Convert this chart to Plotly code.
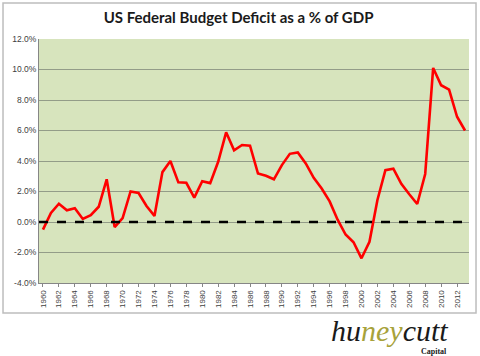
import plotly.graph_objects as go

years = [str(y) for y in range(1960, 2014)]
deficit = [-0.5, 0.6, 1.2, 0.77, 0.9, 0.2, 0.45, 1.0, 2.8, -0.33,
           0.25, 2.0, 1.9, 1.05, 0.4, 3.27, 4.0, 2.6, 2.57, 1.6,
           2.67, 2.55, 3.95, 5.88, 4.7, 5.05, 5.0, 3.18, 3.03, 2.8,
           3.73, 4.47, 4.56, 3.84, 2.9, 2.2, 1.35, 0.15, -0.82, -1.33,
           -2.38, -1.3, 1.44, 3.4, 3.5, 2.5, 1.82, 1.18, 3.15, 10.1,
           8.97, 8.68, 6.9, 6.0]
tick_years = [str(y) for y in range(1960, 2014, 2)]
y_ticks = [-4, -2, 0, 2, 4, 6, 8, 10, 12]
y_labels = ["-4.0%", "-2.0%", "0.0%", "2.0%", "4.0%", "6.0%", "8.0%", "10.0%", "12.0%"]

fig = go.Figure()
fig.add_trace(go.Scatter(x=years, y=deficit, mode="lines",
                         line=dict(color="#ff0000", width=2.6), hoverinfo="skip"))

fig.add_shape(type="line", xref="paper", yref="y", x0=0, x1=1, y0=0, y1=0,
              line=dict(color="black", width=2.6, dash="dash"), layer="above")

# chart border
fig.add_shape(type="rect", xref="paper", yref="paper",
              x0=-0.0837, x1=1.0163, y0=-0.123, y1=1.1475,
              line=dict(color="#bdbdbd", width=1.5), layer="below")

fig.update_layout(
    width=480, height=356,
    margin=dict(l=39, r=11, t=39, b=73, autoexpand=False),
    paper_bgcolor="white", plot_bgcolor="#d7e4bd",
    showlegend=False,
    title=dict(text="<b>US Federal Budget Deficit as a % of GDP</b>",
               x=0.497, xanchor="center", y=1 - 18 / 356, yanchor="middle",
               font=dict(family="Lato, Open Sans, sans-serif", size=15, color="#1a1a1a")),
    font=dict(family="Liberation Sans, Arial, sans-serif", size=9, color="#404040"),
)
fig.update_xaxes(type="category", categoryorder="array", categoryarray=years,
                 tickvals=tick_years, ticktext=tick_years, tickangle=-90,
                 showgrid=False, showline=True, linecolor="#868686", linewidth=1,
                 ticks="outside", ticklen=3, tickcolor="#868686", automargin=False,
                 tickfont=dict(size=8, color="#404040"), range=[-0.5, len(years) - 0.5])
fig.update_yaxes(range=[-4, 12], tickvals=y_ticks, ticktext=y_labels,
                 showgrid=True, gridcolor="#939c88", gridwidth=1,
                 showline=True, linecolor="#868686", linewidth=1, automargin=False,
                 zeroline=False, ticks="", tickfont=dict(size=8.5, color="#404040"))

# logo
fig.add_annotation(xref="paper", yref="paper", x=(389 - 39) / 430, y=(283 - 330) / 244,
                   text="<i>hu<span style='color:#a7a23a'>ney</span>cutt</i>",
                   showarrow=False, xanchor="center", yanchor="middle",
                   font=dict(family="Liberation Serif, serif", size=30, color="#1a1a1a"))
fig.add_annotation(xref="paper", yref="paper", x=(434 - 39) / 430, y=(283 - 351) / 244,
                   text="<b>Capital</b>", showarrow=False, xanchor="center", yanchor="middle",
                   font=dict(family="Liberation Serif, serif", size=8, color="#1a1a1a"))

fig.write_html("out.html", config={"displayModeBar": False},
               post_script="document.body.style.margin='0';")
